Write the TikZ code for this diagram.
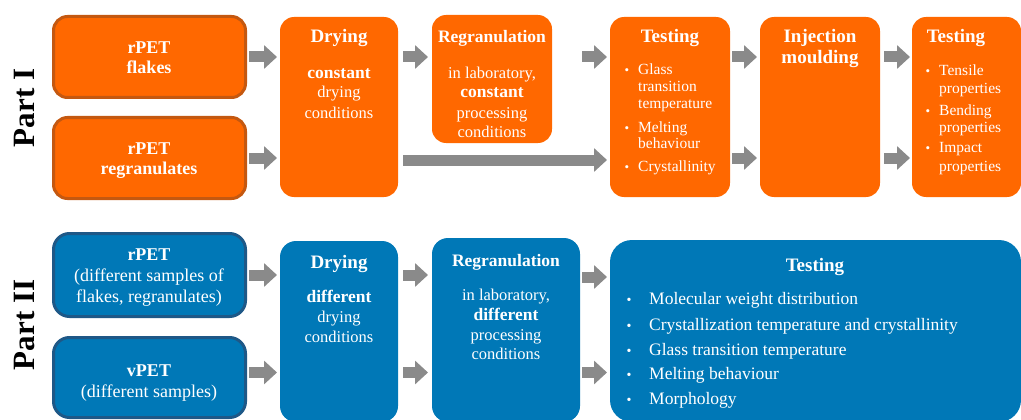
\documentclass[tikz,border=0pt]{standalone}
\usepackage{fontspec}
\setmainfont{Liberation Serif}
\usetikzlibrary{arrows.meta,calc}
\definecolor{orF}{RGB}{255,104,0}
\definecolor{orD}{RGB}{196,88,16}
\definecolor{blF}{RGB}{0,120,183}
\definecolor{blD}{RGB}{30,88,135}
\definecolor{arG}{RGB}{138,138,138}
\begin{document}
\begin{tikzpicture}[x=1pt,y=-1pt,
  obox/.style={fill=orF,draw=none,rounded corners=14pt,anchor=north west,outer sep=0pt,inner sep=0pt},
  obord/.style={obox,draw=orD,line width=3pt},
  bbox/.style={fill=blF,draw=none,rounded corners=16pt,anchor=north west,outer sep=0pt,inner sep=0pt},
  bbord/.style={bbox,draw=blD,line width=3pt},
  barrow/.style={draw=arG,line width=11pt,-{Triangle[length=13pt,width=23pt]}},
  hd/.style={anchor=base,inner sep=0pt,text=white,font=\fontsize{19}{21}\selectfont\bfseries},
  hdr/.style={anchor=base,inner sep=0pt,text=white,font=\fontsize{17.5}{21}\selectfont\bfseries},
  lf/.style={anchor=base,inner sep=0pt,text=white,font=\fontsize{18}{20}\selectfont\bfseries},
  lfr/.style={anchor=base,inner sep=0pt,text=white,font=\fontsize{18}{20}\selectfont},
  bd/.style={anchor=base,inner sep=0pt,text=white,font=\fontsize{16.5}{18}\selectfont},
  bdb/.style={anchor=base,inner sep=0pt,text=white,font=\fontsize{17.5}{18}\selectfont\bfseries},
  it/.style={anchor=base west,inner sep=0pt,text=white,font=\fontsize{15.5}{17}\selectfont},
  bu/.style={anchor=base,inner sep=0pt,text=white,font=\fontsize{13}{17}\selectfont},
  it2/.style={anchor=base west,inner sep=0pt,text=white,font=\fontsize{17.5}{18}\selectfont},
  bu2/.style={anchor=base,inner sep=0pt,text=white,font=\fontsize{14}{18}\selectfont},
  part/.style={rotate=90,inner sep=0pt,text=black,font=\fontsize{31}{33}\selectfont\bfseries}
]
\useasboundingbox (0,0) rectangle (1021,420);

% ---------------- Part I ----------------
\node[part] (p1) at (25,108) {Part I};
\node[obord,minimum width=192pt,minimum height=81pt] (flakes) at (53.5,16.5) {};
\node[obord,minimum width=192pt,minimum height=81pt] (regr) at (53.5,117.5) {};
\node[obox,minimum width=118pt,minimum height=180pt] (dry1) at (280,17) {};
\node[obox,minimum width=120pt,minimum height=128pt] (gran1) at (432,15) {};
\node[obox,minimum width=120pt,minimum height=180pt] (test1) at (610,17) {};
\node[obox,minimum width=120pt,minimum height=180pt] (inj) at (760,17) {};
\node[obox,minimum width=109pt,minimum height=180pt] (test2) at (912,17) {};

\draw[barrow] ($(flakes.east)+(3.5,0)$) -- ($(flakes.east -| dry1.west)+(-3,0)$);
\draw[barrow] ($(regr.east)+(3.5,0)$) -- ($(regr.east -| dry1.west)+(-3,0)$);
\draw[barrow] ($(flakes.east -| dry1.east)+(5,0)$) -- ($(flakes.east -| gran1.west)+(-4,0)$);
\draw[barrow] ($(regr.east -| dry1.east)+(5,2)$) -- ($(regr.east -| test1.west)+(-3,2)$);
\draw[barrow] ($(flakes.east -| test1.west)+(-28,0)$) -- ($(flakes.east -| test1.west)+(-3,0)$);
\draw[barrow] ($(flakes.east -| test1.east)+(2,0)$) -- ($(flakes.east -| inj.west)+(-3,0)$);
\draw[barrow] ($(regr.east -| test1.east)+(2,0)$) -- ($(regr.east -| inj.west)+(-3,0)$);
\draw[barrow] ($(flakes.east -| inj.east)+(4,0)$) -- ($(flakes.east -| test2.west)+(-2,0)$);
\draw[barrow] ($(regr.east -| inj.east)+(4,0)$) -- ($(regr.east -| test2.west)+(-2,0)$);

\node[lf] (fa) at (149,54) {rPET};
\node[lf] (fb) at (149,74) {flakes};
\node[lf] (ra) at (149,154) {rPET};
\node[lf] (rb) at (149,174) {regranulates};

\node[hd] (d1h) at (339,43) {Drying};
\node[bdb] (d1a) at (339,78) {constant};
\node[bd] (d1b) at (339,98) {drying};
\node[bd] (d1c) at (339,118) {conditions};

\node[hdr] (g1h) at (492,43) {Regranulation};
\node[bd] (g1a) at (492,78) {in laboratory,};
\node[bdb] (g1b) at (492,98) {constant};
\node[bd] (g1c) at (492,118) {processing};
\node[bd] (g1d) at (492,137) {conditions};

\node[hd] (t1h) at (670,43) {Testing};
\node[bu] (t1b1) at (627,75) {\textbullet};
\node[it] (t1a) at (638,75) {Glass};
\node[it] (t1b) at (638,92) {transition};
\node[it] (t1c) at (638,108) {temperature};
\node[bu] (t1b2) at (627,132) {\textbullet};
\node[it] (t1d) at (638,132) {Melting};
\node[it] (t1e) at (638,148) {behaviour};
\node[bu] (t1b3) at (627,171) {\textbullet};
\node[it] (t1f) at (638,171) {Crystallinity};

\node[hd] (ih1) at (820,43) {Injection};
\node[hd] (ih2) at (820,64) {moulding};

\node[hd] (t2h) at (956,43) {Testing};
\node[bu] (t2b1) at (928,76) {\textbullet};
\node[it] (t2a) at (939,76) {Tensile};
\node[it] (t2b) at (939,93) {properties};
\node[bu] (t2b2) at (928,115) {\textbullet};
\node[it] (t2c) at (939,115) {Bending};
\node[it] (t2d) at (939,132) {properties};
\node[bu] (t2b3) at (928,153) {\textbullet};
\node[it] (t2e) at (939,153) {Impact};
\node[it] (t2f) at (939,171) {properties};

% ---------------- Part II ----------------
\node[part] (p2) at (25,325) {Part II};
\node[bbord,minimum width=192pt,minimum height=83pt] (rpet2) at (53.5,233.5) {};
\node[bbord,minimum width=192pt,minimum height=80pt] (vpet) at (53.5,337.5) {};
\node[bbox,minimum width=118pt,minimum height=181pt] (dry2) at (280,241) {};
\node[bbox,minimum width=148pt,minimum height=184pt] (gran2) at (432,238) {};
\node[bbox,rounded corners=22pt,minimum width=411pt,minimum height=182pt] (test3) at (610,240) {};

\draw[barrow] ($(rpet2.east)+(3.5,0)$) -- ($(rpet2.east -| dry2.west)+(-3,0)$);
\draw[barrow] ($(vpet.east)+(3.5,-5)$) -- ($(vpet.east -| dry2.west)+(-3,-5)$);
\draw[barrow] ($(rpet2.east -| dry2.east)+(5,0)$) -- ($(rpet2.east -| gran2.west)+(-4,0)$);
\draw[barrow] ($(vpet.east -| dry2.east)+(5,-5)$) -- ($(vpet.east -| gran2.west)+(-4,-5)$);
\draw[barrow] ($(rpet2.east -| gran2.east)+(2,2)$) -- ($(rpet2.east -| test3.west)+(-3,2)$);
\draw[barrow] ($(vpet.east -| gran2.east)+(2,-5)$) -- ($(vpet.east -| test3.west)+(-3,-5)$);

\node[lf] (r2a) at (149,260) {rPET};
\node[lfr] (r2b) at (149,281) {(different samples of};
\node[lfr] (r2c) at (149,302) {flakes, regranulates)};
\node[lf] (v2a) at (149,376) {vPET};
\node[lfr] (v2b) at (149,397) {(different samples)};

\node[hd] (d2h) at (339,268) {Drying};
\node[bdb] (d2a) at (339,302) {different};
\node[bd] (d2b) at (339,322) {drying};
\node[bd] (d2c) at (339,342) {conditions};

\node[hdr] (g2h) at (506,266) {Regranulation};
\node[bd] (g2a) at (506,300) {in laboratory,};
\node[bdb] (g2b) at (506,320) {different};
\node[bd] (g2c) at (506,340) {processing};
\node[bd] (g2d) at (506,359) {conditions};

\node[hd] (t3h) at (815,271) {Testing};
\node[bu2] (t3b1) at (629,304) {\textbullet};
\node[it2] (t3a) at (649,304) {Molecular weight distribution};
\node[bu2] (t3b2) at (629,330) {\textbullet};
\node[it2] (t3b) at (649,330) {Crystallization temperature and crystallinity};
\node[bu2] (t3b3) at (629,355) {\textbullet};
\node[it2] (t3c) at (649,355) {Glass transition temperature};
\node[bu2] (t3b4) at (629,379) {\textbullet};
\node[it2] (t3d) at (649,379) {Melting behaviour};
\node[bu2] (t3b5) at (629,404) {\textbullet};
\node[it2] (t3e) at (649,404) {Morphology};
\end{tikzpicture}
\end{document}
